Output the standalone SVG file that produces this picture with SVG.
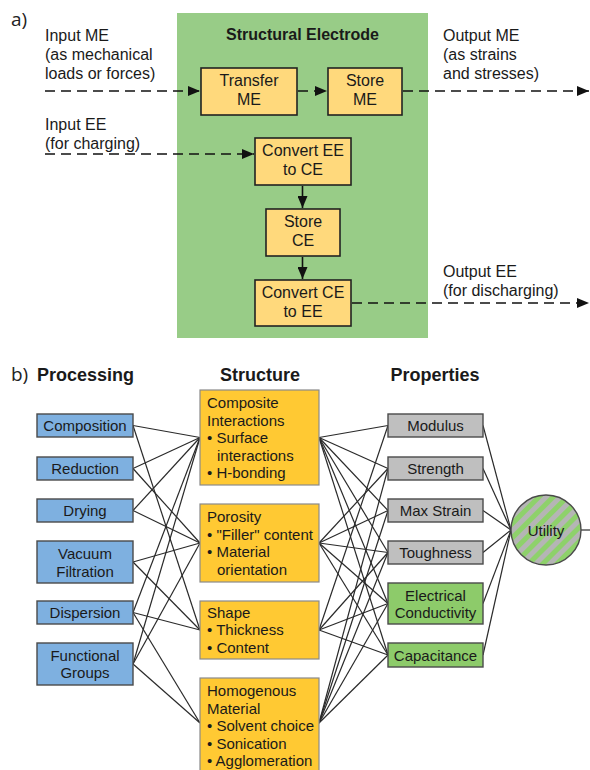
<svg xmlns="http://www.w3.org/2000/svg" width="590" height="770" viewBox="0 0 590 770">
<defs>
<style>
text{font-family:"Liberation Sans",Arial,sans-serif;fill:#1a1a1a}
.a{font-size:16px}
.b{font-size:15px}
.m{text-anchor:middle}
.h{font-size:18px;font-weight:bold}
.lab{font-family:"Open Sans","DejaVu Sans",sans-serif;font-size:19px;fill:#222}
.ybox{fill:#FFD97C;stroke:#222;stroke-width:1.6}
.blue{fill:#7EB0E0;stroke:#4a4a4a;stroke-width:1.4}
.orng{fill:#FFC933;stroke:#8a8a8a;stroke-width:1.2}
.gray{fill:#BFBFBF;stroke:#4a4a4a;stroke-width:1.4}
.grn{fill:#8DCB6A;stroke:#4a4a4a;stroke-width:1.4}
.dash{fill:none;stroke:#111;stroke-width:1.6;stroke-dasharray:10,6}
.sol{fill:none;stroke:#111;stroke-width:1.6}
.ln{fill:none;stroke:#2a2a2a;stroke-width:1.2}
</style>
<marker id="ar" markerUnits="userSpaceOnUse" markerWidth="12" markerHeight="10" refX="12" refY="5" orient="auto">
<path d="M0,0 L12,5 L0,10 z" fill="#111"/>
</marker>
<pattern id="stripes" patternUnits="userSpaceOnUse" width="10" height="10" patternTransform="rotate(45)">
<rect x="0" y="0" width="10" height="10" fill="#B5B5B5"/>
<rect x="0" y="0" width="5" height="10" fill="#8ED16B"/>
</pattern>
</defs>
<rect width="590" height="770" fill="#fff"/>

<!-- Part a -->
<text class="lab" x="11" y="26">a)</text>
<g id="structural-electrode">
<rect x="177" y="13" width="251" height="325" fill="#98CC87"/>
<text class="a m" x="302.5" y="40" font-weight="bold">Structural Electrode</text>
</g>
<g id="input-me-label">
<text class="a" x="45" y="41">Input ME</text>
<text class="a" x="45" y="60">(as mechanical</text>
<text class="a" x="45" y="79">loads or forces)</text>
</g>
<g id="output-me-label">
<text class="a" x="443" y="41">Output ME</text>
<text class="a" x="443" y="60">(as strains</text>
<text class="a" x="443" y="79">and stresses)</text>
</g>
<g id="input-ee-label">
<text class="a" x="45" y="130">Input EE</text>
<text class="a" x="45" y="149">(for charging)</text>
</g>
<g id="output-ee-label">
<text class="a" x="443" y="277">Output EE</text>
<text class="a" x="443" y="296">(for discharging)</text>
</g>

<g id="connectors-a">
<line class="dash" x1="45" y1="91" x2="200" y2="91" marker-end="url(#ar)"/>
<line class="dash" x1="298" y1="91" x2="327" y2="91" marker-end="url(#ar)"/>
<line class="dash" x1="403" y1="91" x2="589" y2="91" marker-end="url(#ar)"/>
<line class="dash" x1="45" y1="154" x2="254" y2="154" marker-end="url(#ar)"/>
<line class="sol" x1="302.5" y1="186" x2="302.5" y2="208" marker-end="url(#ar)"/>
<line class="sol" x1="302.5" y1="257" x2="302.5" y2="279" marker-end="url(#ar)"/>
<line class="dash" x1="352" y1="303" x2="589" y2="303" marker-end="url(#ar)"/>
</g>

<g id="transfer-me">
<rect class="ybox" x="201" y="68" width="96" height="47"/>
<text class="a m" x="249" y="86">Transfer</text>
<text class="a m" x="249" y="105">ME</text>
</g>
<g id="store-me">
<rect class="ybox" x="328" y="68" width="74" height="47"/>
<text class="a m" x="365" y="86">Store</text>
<text class="a m" x="365" y="105">ME</text>
</g>
<g id="convert-ee-ce">
<rect class="ybox" x="255" y="138" width="96" height="47"/>
<text class="a m" x="303" y="156">Convert EE</text>
<text class="a m" x="303" y="175">to CE</text>
</g>
<g id="store-ce">
<rect class="ybox" x="266" y="209" width="74" height="47"/>
<text class="a m" x="303" y="227">Store</text>
<text class="a m" x="303" y="246">CE</text>
</g>
<g id="convert-ce-ee">
<rect class="ybox" x="255" y="280" width="96" height="46"/>
<text class="a m" x="303" y="298">Convert CE</text>
<text class="a m" x="303" y="317">to EE</text>
</g>

<!-- Part b -->
<text class="lab" x="11" y="381">b)</text>
<text class="h" x="37" y="381">Processing</text>
<text class="h m" x="260" y="381">Structure</text>
<text class="h m" x="435" y="381">Properties</text>

<g id="connectors-b">
<!-- processing to structure -->
<line class="ln" x1="133" y1="425.5" x2="200" y2="437.5"/>
<line class="ln" x1="133" y1="425.5" x2="200" y2="630"/>
<line class="ln" x1="133" y1="468.5" x2="200" y2="437.5"/>
<line class="ln" x1="133" y1="468.5" x2="200" y2="543"/>
<line class="ln" x1="133" y1="510.5" x2="200" y2="437.5"/>
<line class="ln" x1="133" y1="510.5" x2="200" y2="543"/>
<line class="ln" x1="133" y1="562" x2="200" y2="543"/>
<line class="ln" x1="133" y1="562" x2="200" y2="630"/>
<line class="ln" x1="133" y1="612.5" x2="200" y2="437.5"/>
<line class="ln" x1="133" y1="612.5" x2="200" y2="630"/>
<line class="ln" x1="133" y1="612.5" x2="200" y2="723"/>
<line class="ln" x1="133" y1="664" x2="200" y2="437.5"/>
<line class="ln" x1="133" y1="664" x2="200" y2="543"/>
<line class="ln" x1="133" y1="664" x2="200" y2="723"/>
<!-- structure to properties -->
<line class="ln" x1="319" y1="437.5" x2="388" y2="425.5"/>
<line class="ln" x1="319" y1="437.5" x2="388" y2="468.5"/>
<line class="ln" x1="319" y1="437.5" x2="388" y2="510.5"/>
<line class="ln" x1="319" y1="437.5" x2="388" y2="552.5"/>
<line class="ln" x1="319" y1="437.5" x2="388" y2="603.5"/>
<line class="ln" x1="319" y1="437.5" x2="388" y2="655"/>
<line class="ln" x1="319" y1="543" x2="388" y2="468.5"/>
<line class="ln" x1="319" y1="543" x2="388" y2="510.5"/>
<line class="ln" x1="319" y1="543" x2="388" y2="552.5"/>
<line class="ln" x1="319" y1="543" x2="388" y2="603.5"/>
<line class="ln" x1="319" y1="543" x2="388" y2="655"/>
<line class="ln" x1="319" y1="630" x2="388" y2="425.5"/>
<line class="ln" x1="319" y1="630" x2="388" y2="552.5"/>
<line class="ln" x1="319" y1="630" x2="388" y2="603.5"/>
<line class="ln" x1="319" y1="630" x2="388" y2="655"/>
<line class="ln" x1="319" y1="723" x2="388" y2="468.5"/>
<line class="ln" x1="319" y1="723" x2="388" y2="510.5"/>
<line class="ln" x1="319" y1="723" x2="388" y2="552.5"/>
<line class="ln" x1="319" y1="723" x2="388" y2="603.5"/>
<line class="ln" x1="319" y1="723" x2="388" y2="655"/>
<!-- properties to utility -->
<line class="ln" x1="483" y1="425.5" x2="511" y2="530"/>
<line class="ln" x1="483" y1="468.5" x2="511" y2="530"/>
<line class="ln" x1="483" y1="510.5" x2="511" y2="530"/>
<line class="ln" x1="483" y1="552.5" x2="511" y2="530"/>
<line class="ln" x1="483" y1="603.5" x2="511" y2="530"/>
<line class="ln" x1="483" y1="655" x2="511" y2="530"/>
<line class="ln" x1="581" y1="530" x2="590" y2="530"/>
</g>

<g id="composition"><rect class="blue" x="37" y="414" width="96" height="23"/><text class="b m" x="85" y="431">Composition</text></g>
<g id="reduction"><rect class="blue" x="37" y="457" width="96" height="23"/><text class="b m" x="85" y="474">Reduction</text></g>
<g id="drying"><rect class="blue" x="37" y="499" width="96" height="23"/><text class="b m" x="85" y="516">Drying</text></g>
<g id="vacuum-filtration"><rect class="blue" x="37" y="541" width="96" height="42"/><text class="b m" x="85" y="559">Vacuum</text><text class="b m" x="85" y="577">Filtration</text></g>
<g id="dispersion"><rect class="blue" x="37" y="601" width="96" height="23"/><text class="b m" x="85" y="618">Dispersion</text></g>
<g id="functional-groups"><rect class="blue" x="37" y="643" width="96" height="42"/><text class="b m" x="85" y="661">Functional</text><text class="b m" x="85" y="678">Groups</text></g>

<g id="composite-interactions"><rect class="orng" x="200" y="390" width="119" height="95"/>
<text class="b" x="207" y="408">Composite</text>
<text class="b" x="207" y="425.5">Interactions</text>
<text class="b" x="207" y="443">• Surface</text>
<text class="b" x="217" y="460.5">interactions</text>
<text class="b" x="207" y="478">• H-bonding</text></g>
<g id="porosity"><rect class="orng" x="200" y="504" width="119" height="78"/>
<text class="b" x="207" y="522">Porosity</text>
<text class="b" x="207" y="539.5">• "Filler" content</text>
<text class="b" x="207" y="557">• Material</text>
<text class="b" x="217" y="574.5">orientation</text></g>
<g id="shape"><rect class="orng" x="200" y="601" width="119" height="58"/>
<text class="b" x="207" y="617.5">Shape</text>
<text class="b" x="207" y="635">• Thickness</text>
<text class="b" x="207" y="652.5">• Content</text></g>
<g id="homogenous-material"><rect class="orng" x="200" y="678" width="119" height="100"/>
<text class="b" x="207" y="696">Homogenous</text>
<text class="b" x="207" y="713.5">Material</text>
<text class="b" x="207" y="731">• Solvent choice</text>
<text class="b" x="207" y="748.5">• Sonication</text>
<text class="b" x="207" y="766">• Agglomeration</text></g>

<g id="modulus"><rect class="gray" x="388" y="414" width="95" height="23"/><text class="b m" x="435.5" y="431">Modulus</text></g>
<g id="strength"><rect class="gray" x="388" y="457" width="95" height="23"/><text class="b m" x="435.5" y="474">Strength</text></g>
<g id="max-strain"><rect class="gray" x="388" y="499" width="95" height="23"/><text class="b m" x="435.5" y="516">Max Strain</text></g>
<g id="toughness"><rect class="gray" x="388" y="541" width="95" height="23"/><text class="b m" x="435.5" y="558">Toughness</text></g>
<g id="electrical-conductivity"><rect class="grn" x="388" y="583" width="95" height="41"/><text class="b m" x="435.5" y="601">Electrical</text><text class="b m" x="435.5" y="618">Conductivity</text></g>
<g id="capacitance"><rect class="grn" x="388" y="643" width="95" height="24"/><text class="b m" x="435.5" y="660.5">Capacitance</text></g>

<g id="utility"><circle cx="546" cy="530" r="35" fill="url(#stripes)" stroke="#4a4a4a" stroke-width="1.4"/><text class="b m" x="546" y="535.5">Utility</text></g>
</svg>
